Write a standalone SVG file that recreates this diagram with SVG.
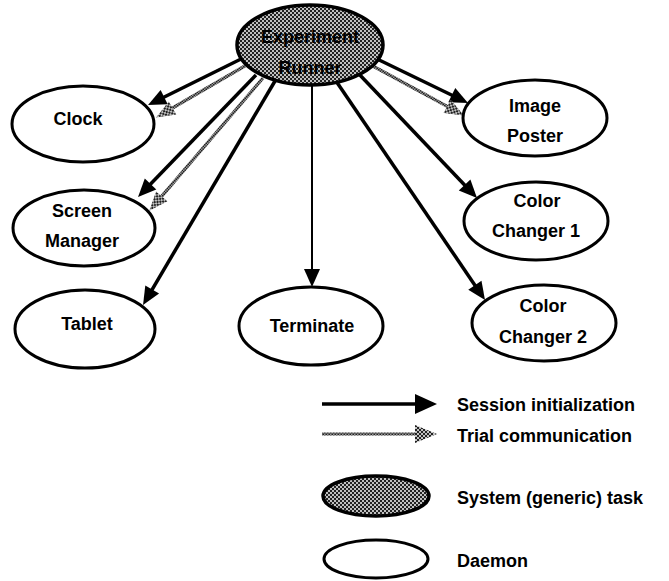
<svg xmlns="http://www.w3.org/2000/svg" width="669" height="581" viewBox="0 0 669 581">
<style>
.node{fill:#fff;stroke:#000;stroke-width:3}
.sys{fill:url(#checker);stroke:#000;stroke-width:3.5}
.lbl{font-family:"Liberation Sans",Arial,sans-serif;font-weight:bold;font-size:18px;fill:#000;text-anchor:middle}
.leg{font-family:"Liberation Sans",Arial,sans-serif;font-weight:bold;font-size:18px;fill:#000}
.solid{stroke:#000;stroke-width:3.5;fill:none;marker-end:url(#headSolid)}
.thin{stroke:#000;stroke-width:2;fill:none;marker-end:url(#headSolid)}
.gray{stroke:url(#fine);stroke-width:3.2;fill:none;marker-end:url(#headGray)}
</style>
<defs>
<pattern id="checker" width="4" height="4" patternUnits="userSpaceOnUse">
<rect width="4" height="4" fill="#c0c0c0"/>
<rect width="2" height="2" fill="#222"/>
<rect x="2" y="2" width="2" height="2" fill="#222"/>
</pattern>
<pattern id="fine" width="3" height="3" patternUnits="userSpaceOnUse">
<rect width="3" height="3" fill="#999"/>
<rect width="1.5" height="1.5" fill="#222"/>
<rect x="1.5" y="1.5" width="1.5" height="1.5" fill="#222"/>
</pattern>
<marker id="headSolid" markerUnits="userSpaceOnUse" markerWidth="20" markerHeight="16" refX="10" refY="8" orient="auto" overflow="visible">
<path d="M0,0 L18,8 L0,16 z" fill="#000"/>
</marker>
<marker id="headGray" markerUnits="userSpaceOnUse" markerWidth="20" markerHeight="16" refX="10" refY="7.5" orient="auto" overflow="visible">
<path d="M0,0 L19,7.5 L0,15 z" fill="url(#checker)"/>
</marker>
<marker id="legSolid" markerUnits="userSpaceOnUse" markerWidth="24" markerHeight="20" refX="4" refY="10" orient="auto" overflow="visible">
<path d="M0,0 L22,10 L0,20 z" fill="#000"/>
</marker>
<marker id="legGray" markerUnits="userSpaceOnUse" markerWidth="24" markerHeight="20" refX="4" refY="9" orient="auto" overflow="visible">
<path d="M0,0 L22,9 L0,18 z" fill="url(#checker)"/>
</marker>
</defs>
<g id="connectors">
<line class="solid" x1="243" y1="58" x2="155.2" y2="101.5"/>
<line class="gray" x1="250" y1="63" x2="163.9" y2="113"/>
<line class="solid" x1="256" y1="75" x2="143.6" y2="191.2"/>
<line class="gray" x1="263" y1="78" x2="155.2" y2="203.9"/>
<line class="solid" x1="275" y1="81" x2="147.1" y2="298.1"/>
<line class="thin" x1="312" y1="86" x2="312" y2="279"/>
<line class="solid" x1="373" y1="57" x2="460.8" y2="99.5"/>
<line class="gray" x1="371" y1="65" x2="456" y2="111.2"/>
<line class="solid" x1="358" y1="73" x2="471.5" y2="192.2"/>
<line class="solid" x1="336" y1="81" x2="480.5" y2="293.4"/>
</g>
<g id="experiment-runner">
<ellipse class="sys" cx="310" cy="45" rx="73" ry="40"/>
<text class="lbl" x="310" y="43">Experiment</text>
<text class="lbl" x="310" y="74">Runner</text>
</g>
<g id="clock">
<ellipse class="node" cx="83" cy="124" rx="71" ry="38"/>
<text class="lbl" x="78" y="125">Clock</text>
</g>
<g id="screen-manager">
<ellipse class="node" cx="84" cy="228" rx="71" ry="38"/>
<text class="lbl" x="82" y="217">Screen</text>
<text class="lbl" x="82" y="247">Manager</text>
</g>
<g id="tablet">
<ellipse class="node" cx="85" cy="329" rx="70" ry="39"/>
<text class="lbl" x="87" y="330">Tablet</text>
</g>
<g id="terminate">
<ellipse class="node" cx="311" cy="326" rx="72" ry="39"/>
<text class="lbl" x="312" y="332">Terminate</text>
</g>
<g id="image-poster">
<ellipse class="node" cx="535" cy="118" rx="72" ry="38"/>
<text class="lbl" x="535" y="112">Image</text>
<text class="lbl" x="535" y="142">Poster</text>
</g>
<g id="color-changer-1">
<ellipse class="node" cx="536" cy="221" rx="72" ry="39"/>
<text class="lbl" x="537" y="207">Color</text>
<text class="lbl" x="536" y="237">Changer 1</text>
</g>
<g id="color-changer-2">
<ellipse class="node" cx="544" cy="323" rx="72" ry="38"/>
<text class="lbl" x="543" y="312">Color</text>
<text class="lbl" x="543" y="343">Changer 2</text>
</g>
<g id="legend">
<line x1="322" y1="404" x2="419" y2="404" stroke="#000" stroke-width="3.5" marker-end="url(#legSolid)"/>
<line x1="322" y1="434" x2="419" y2="434" stroke="url(#fine)" stroke-width="3" marker-end="url(#legGray)"/>
<text class="leg" x="457" y="411">Session initialization</text>
<text class="leg" x="457" y="442">Trial communication</text>
<ellipse class="sys" cx="376" cy="496" rx="53" ry="20"/>
<text class="leg" x="457" y="504">System (generic) task</text>
<ellipse class="node" cx="376" cy="559" rx="52" ry="19"/>
<text class="leg" x="457" y="567">Daemon</text>
</g>
</svg>
